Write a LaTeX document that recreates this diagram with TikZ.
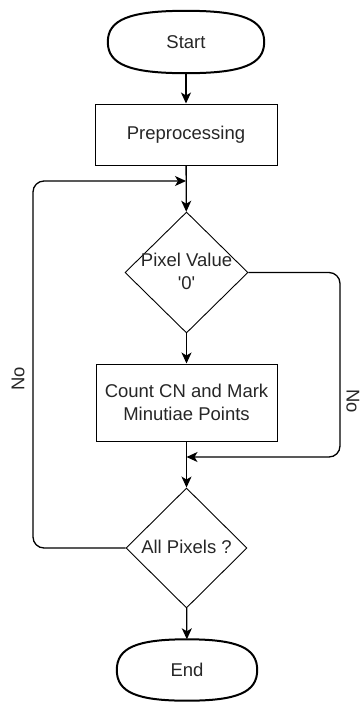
\documentclass[tikz,border=0pt]{standalone}
\usepackage{fontspec}
\setmainfont{Liberation Sans}
\usetikzlibrary{shapes.geometric,arrows.meta,calc}

% rounded "terminator" outline drawn around a named node
\newcommand{\termoutline}[2][0.72]{%
  \draw[termline]
    (#2.west) .. controls ($(#2.west)!#1!(#2.north west)$) and ($(#2.north)!#1!(#2.north west)$) .. (#2.north)
    .. controls ($(#2.north)!#1!(#2.north east)$) and ($(#2.east)!#1!(#2.north east)$) .. (#2.east)
    .. controls ($(#2.east)!#1!(#2.south east)$) and ($(#2.south)!#1!(#2.south east)$) .. (#2.south)
    .. controls ($(#2.south)!#1!(#2.south west)$) and ($(#2.west)!#1!(#2.south west)$) .. (#2.west) -- cycle;}

\tikzset{
  every node/.style={font=\fontsize{18.5}{23}\selectfont, text=black!85},
  term/.style={rectangle, inner sep=0pt, draw=none},
  termline/.style={line width=2pt, black},
  procbox/.style={rectangle, draw, line width=1pt, inner sep=0pt, align=center},
  decision/.style={diamond, draw, line width=0.9pt, inner sep=0pt},
  dtext/.style={align=center, inner sep=0pt},
  arr/.style={line width=1.3pt, -{Stealth[length=11pt, width=10pt, inset=3pt]}},
  loopline/.style={arr, rounded corners=11pt},
}

\begin{document}
\begin{tikzpicture}[x=1pt, y=-1pt]
  \useasboundingbox (0,0) rectangle (360,702);

  % terminals
  \node[term, minimum width=156pt, minimum height=62pt] (start) at (186,42) {Start};
  \termoutline{start}
  \node[term, minimum width=140pt, minimum height=61pt] (end) at (187,670) {End};
  \termoutline{end}

  % process steps
  \node[procbox, minimum width=182pt, minimum height=61pt] (pre) at (186,134.5) {Preprocessing};
  \node[procbox, minimum width=181pt, minimum height=77pt] (cn) at (186.5,402.5)
       {Count CN and Mark\\Minutiae Points};

  % decisions
  \node[decision, minimum width=123pt, minimum height=121pt] (d1) at (186.5,272.5) {};
  \node[dtext] (d1t) at (186.5,271) {Pixel Value\\\textquotesingle 0\textquotesingle};
  \node[decision, minimum width=121pt, minimum height=120pt] (d2) at (186.5,548) {};
  \node[dtext] (d2t) at (186.5,547) {All Pixels ?};

  % junction points and loop corners
  \coordinate (m1) at (186,181);
  \coordinate (m2) at (186.5,457);
  \coordinate (lc) at (33,181);
  \coordinate (rc) at (340,457);

  % main flow
  \draw[arr] (start) -- (pre);
  \draw[arr] (pre) -- (d1);
  \draw[arr] (d1) -- (cn);
  \draw[arr] (cn) -- (d2);
  \draw[arr] (d2) -- (end);

  % loop-backs
  \draw[loopline] (d2.west) -| (lc) -- (m1);
  \draw[loopline] (d1.east) -| (rc) -- (m2);

  % branch labels
  \node[rotate=90, inner sep=0pt] (nol) at (18,379) {No};
  \node[rotate=-90, inner sep=0pt] (nor) at (353,401) {No};
\end{tikzpicture}
\end{document}
